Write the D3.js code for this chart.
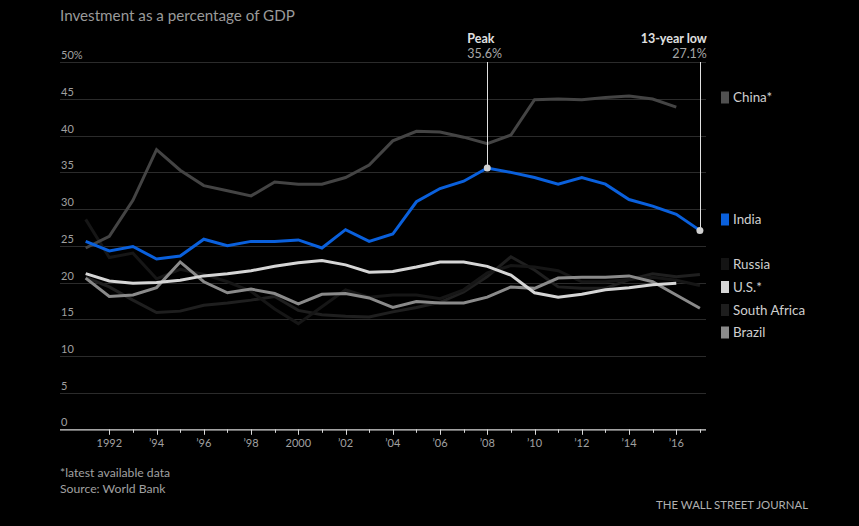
<!DOCTYPE html>
<html><head><meta charset="utf-8">
<script src="https://cdn.jsdelivr.net/npm/d3@7"></script>
<style>
html,body{margin:0;padding:0;background:#000;}
svg{display:block;font-family:Lato,"Open Sans",sans-serif;}
</style></head>
<body><svg id="c" width="859" height="526"></svg>
<script>
const years = [1991,1992,1993,1994,1995,1996,1997,1998,1999,2000,2001,2002,2003,2004,2005,2006,2007,2008,2009,2010,2011,2012,2013,2014,2015,2016,2017];
const china = [24.7,26.3,31.2,38.1,35.3,33.2,32.5,31.8,33.7,33.4,33.4,34.3,36.0,39.3,40.6,40.5,39.8,38.9,40.1,44.9,45.0,44.9,45.2,45.4,45.0,43.9];
const india = [25.6,24.3,24.9,23.2,23.6,25.9,25.0,25.6,25.6,25.8,24.7,27.2,25.6,26.6,31.0,32.8,33.8,35.6,35.0,34.3,33.4,34.3,33.4,31.3,30.4,29.3,27.1];
const russia = [28.6,23.4,24.0,20.5,21.8,21.1,20.1,18.8,16.4,14.4,16.7,19.0,18.0,18.3,18.3,17.8,19.0,21.3,22.3,22.1,21.6,20.1,20.1,20.4,20.7,20.3,19.6];
const us = [21.2,20.2,19.9,20.0,20.3,20.9,21.2,21.6,22.2,22.7,23.0,22.4,21.4,21.5,22.1,22.8,22.8,22.2,21.0,18.6,18.0,18.4,19.0,19.3,19.7,19.9];
const southAfrica = [20.7,19.4,17.6,15.9,16.1,16.9,17.2,17.6,18.1,16.2,15.6,15.4,15.3,16.0,16.6,17.3,18.7,20.8,23.5,21.7,19.4,19.2,19.2,20.4,21.2,20.8,21.1];
const brazil = [20.6,18.1,18.3,19.3,22.8,20.1,18.6,19.1,18.5,17.1,18.4,18.5,17.9,16.6,17.4,17.2,17.2,18.0,19.4,19.2,20.6,20.7,20.7,20.9,20.1,18.3,16.5];
const seriesNames = ["China*","India","Russia","U.S.*","South Africa","Brazil"];
const seriesValues = [china, india, russia, us, southAfrica, brazil];
const seriesColors = ["#444444","#0a60dc","#161616","#d6d6d6","#1f1f1f","#8a8a8a"];
const swatchColors = ["#505050","#0a60dc","#141414","#d6d6d6","#1e1e1e","#8a8a8a"];
const yTicks = [0,5,10,15,20,25,30,35,40,45,50];
const xTickYears = [1992,1993,1994,1995,1996,1997,1998,1999,2000,2001,2002,2003,2004,2005,2006,2007,2008,2009,2010,2011,2012,2013,2014,2015,2016,2017];
const xTickLabels = {1992:"1992",1994:"’94",1996:"’96",1998:"’98",2000:"2000",2002:"’02",2004:"’04",2006:"’06",2008:"’08",2010:"’10",2012:"’12",2014:"’14",2016:"’16"};
const peak = {year:2008, value:35.6, title:"Peak", label:"35.6%"};
const low = {year:2017, value:27.1, title:"13-year low", label:"27.1%"};

const svg = d3.select("#c");
const x = d3.scaleLinear().domain([1990, 2017]).range([62.05, 699.9]);
const y = d3.scaleLinear().domain([0, 50]).range([429.3, 62.3]);
const left = 60, right = 706;

svg.append("text").attr("x", 60).attr("y", 21).attr("fill", "#9a9a9a")
  .attr("font-size", 15.2).text("Investment as a percentage of GDP");

// gridlines
const g = svg.append("g");
g.selectAll("line.grid").data(yTicks.filter(d => d > 0)).join("line")
  .attr("x1", left).attr("x2", right).attr("y1", d => Math.round(y(d)) + 0.5).attr("y2", d => Math.round(y(d)) + 0.5)
  .attr("stroke", "#2b2b2b").attr("stroke-width", 1);
g.selectAll("text.yl").data(yTicks).join("text")
  .attr("x", 61).attr("y", d => y(d) - 3).attr("fill", "#a0a0a0").attr("font-size", 11)
  .text(d => d === 50 ? "50%" : d);

// lines
const line = d3.line().x((d, i) => x(years[i])).y(d => y(d));
const order = [4, 2, 5, 3, 0, 1];
order.forEach(k => {
  svg.append("path").datum(seriesValues[k]).attr("d", line)
    .attr("fill", "none").attr("stroke", seriesColors[k]).attr("stroke-width", 3)
    .attr("stroke-linejoin", "miter");
});

// axis
svg.append("line").attr("x1", left).attr("x2", right).attr("y1", y(0) + 0.5).attr("y2", y(0) + 0.5)
  .attr("stroke", "#d8d8d8").attr("stroke-width", 1.3);
svg.selectAll("line.tick").data(xTickYears).join("line")
  .attr("x1", d => Math.round(x(d)) + 0.5).attr("x2", d => Math.round(x(d)) + 0.5)
  .attr("y1", y(0)).attr("y2", d => y(0) + (xTickLabels[d] ? 5.5 : 3.5))
  .attr("stroke", "#d8d8d8").attr("stroke-width", 1);
svg.selectAll("text.xl").data(xTickYears.filter(d => xTickLabels[d])).join("text")
  .attr("x", d => x(d)).attr("y", 447).attr("text-anchor", "middle")
  .attr("fill", "#a0a0a0").attr("font-size", 11).text(d => xTickLabels[d]);

// annotations
[peak, low].forEach((a, i) => {
  const ax = Math.round(x(a.year)) + 0.5;
  svg.append("line").attr("x1", ax).attr("x2", ax).attr("y1", 62).attr("y2", y(a.value))
    .attr("stroke", "#e0e0e0").attr("stroke-width", 1);
  svg.append("circle").attr("cx", x(a.year)).attr("cy", y(a.value)).attr("r", 3.5).attr("fill", "#d0d0d0");
  const tx = i === 0 ? x(a.year) - 20 : x(a.year) + 7;
  const anchor = i === 0 ? "start" : "end";
  svg.append("text").attr("x", tx).attr("y", 42.5).attr("text-anchor", anchor)
    .attr("fill", "#e0e0e0").attr("font-size", 12.5).attr("font-weight", "bold").text(a.title);
  svg.append("text").attr("x", tx).attr("y", 57.5).attr("text-anchor", anchor)
    .attr("fill", "#a8a8a8").attr("font-size", 12.5).text(a.label);
});

// legend
const legendRows = [97.5, 219.5, 264, 287, 310, 332.5];
seriesNames.forEach((n, k) => {
  svg.append("rect").attr("x", 721).attr("y", legendRows[k] - 6).attr("width", 8).attr("height", 12)
    .attr("fill", swatchColors[k]);
  svg.append("text").attr("x", 733).attr("y", legendRows[k] + 4.5).attr("fill", "#cfcfcf")
    .attr("font-size", 13.4).text(n);
});

// footer
svg.append("text").attr("x", 60).attr("y", 476.5).attr("fill", "#a0a0a0").attr("font-size", 12.2).text("*latest available data");
svg.append("text").attr("x", 60).attr("y", 493).attr("fill", "#a0a0a0").attr("font-size", 12.2).text("Source: World Bank");
svg.append("text").attr("x", 808).attr("y", 509).attr("text-anchor", "end").attr("fill", "#b0b0b0")
  .attr("font-size", 11.4).text("THE WALL STREET JOURNAL");
</script></body></html>
